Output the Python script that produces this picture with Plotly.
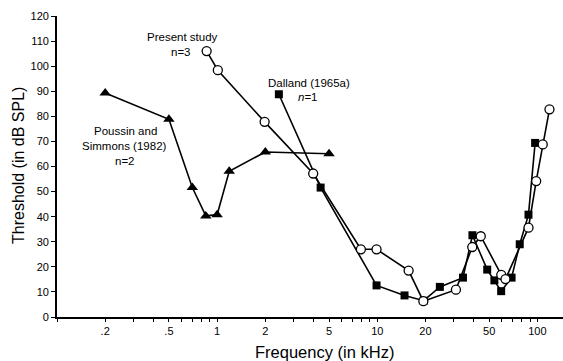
import numpy as np
import plotly.graph_objects as go

# Poussin and Simmons (1982), n=2 (triangles)
ps_freq = [0.2, 0.5, 0.7, 0.85, 1.0, 1.19, 2.0, 5.0]
ps_thr = [89.3, 78.8, 51.6, 40.3, 40.8, 58.1, 65.8, 65.1]

# Present study, n=3 (open circles)
ps2_freq = [0.86, 1.01, 1.98, 3.98, 7.9, 9.9, 15.7, 19.4, 31.0, 39.2, 44.3, 59.5, 63.2, 88.0, 98.3, 108.0, 119.0]
ps2_thr = [106.0, 98.4, 77.8, 57.2, 27.0, 27.0, 18.5, 6.3, 10.9, 27.9, 32.2, 16.8, 15.1, 35.6, 54.2, 68.8, 82.8]

# Dalland (1965a), n=1 (filled squares)
da_freq = [2.43, 4.43, 9.9, 14.8, 19.5, 24.6, 34.3, 39.3, 48.6, 53.9, 59.4, 69.0, 77.6, 88.0, 96.8]
da_thr = [88.8, 51.6, 12.6, 8.6, 6.5, 12.0, 15.7, 32.6, 18.9, 14.6, 10.3, 15.7, 29.0, 40.8, 69.4]

# axis ticks
y_ticks = list(range(0, 121, 10))
x_label_vals = [0.2, 0.5, 1, 2, 5, 10, 20, 50, 100]
x_label_text = [".2", ".5", "1", "2", "5", "10", "20", "50", "100"]

minor_vals = []
for dec in [0.1, 1, 10, 100]:
    for m in range(1, 10):
        v = round(dec * m, 6)
        if v <= 140:
            minor_vals.append(v)
tick_text = []
for v in minor_vals:
    lab = ""
    for lv, lt in zip(x_label_vals, x_label_text):
        if abs(v - lv) < 1e-9:
            lab = lt
    tick_text.append(lab)

FONT = "Liberation Sans, Arial, Helvetica, sans-serif"
W, H = 563, 361
ML, MR, MT, MB = 57, 0, 16, 44
PW, PH = W - ML - MR, H - MT - MB

fig = go.Figure()
fig.add_trace(go.Scatter(
    x=ps_freq, y=ps_thr, mode="lines+markers",
    line=dict(color="black", width=1.6),
    marker=dict(symbol="triangle-up", size=10, color="black"),
    showlegend=False))
fig.add_trace(go.Scatter(
    x=da_freq, y=da_thr, mode="lines+markers",
    line=dict(color="black", width=1.6),
    marker=dict(symbol="square", size=8, color="black"),
    showlegend=False))
fig.add_trace(go.Scatter(
    x=ps2_freq, y=ps2_thr, mode="lines+markers",
    line=dict(color="black", width=1.6),
    marker=dict(symbol="circle", size=9, color="white", line=dict(color="black", width=1.3)),
    showlegend=False))

ann_font = dict(family=FONT, size=11.5, color="black")
annotations = [
    dict(x=182, y=37, text="Present study", font=ann_font),
    dict(x=181, y=52, text="n=3", font=ann_font),
    dict(x=309, y=83, text="Dalland (1965a)", font=ann_font),
    dict(x=308, y=97, text="<i>n</i>=1", font=ann_font),
    dict(x=125, y=131, text="Poussin and", font=ann_font),
    dict(x=124, y=146, text="Simmons (1982)", font=ann_font),
    dict(x=125, y=161, text="n=2", font=ann_font),
    dict(x=324, y=352, text="Frequency (in kHz)", font=dict(family=FONT, size=16.5, color="black")),
    dict(x=18, y=166, text="Threshold (in dB SPL)", textangle=-90, font=dict(family=FONT, size=16, color="black")),
]
for a in annotations:
    a["x"] = (a["x"] - ML) / PW
    a["y"] = (H - MB - a["y"]) / PH
    a.update(xref="paper", yref="paper", showarrow=False, xanchor="center", yanchor="middle")

fig.update_layout(
    width=W, height=H,
    margin=dict(l=ML, r=MR, t=MT, b=MB),
    plot_bgcolor="white", paper_bgcolor="white",
    font=dict(family=FONT, size=11, color="black"),
    annotations=annotations,
    xaxis=dict(
        type="log", range=[-1.0, 2.16],
        tickmode="array", tickvals=minor_vals, ticktext=tick_text,
        ticks="outside", ticklen=3, tickwidth=1, tickcolor="black",
        showline=True, linecolor="black", linewidth=1.8,
        showgrid=False, zeroline=False,
        tickfont=dict(family=FONT, size=11, color="black"),
    ),
    yaxis=dict(
        range=[0, 120], tickmode="array", tickvals=y_ticks,
        ticks="outside", ticklen=4, tickwidth=1, tickcolor="black",
        showline=True, linecolor="black", linewidth=1.8,
        showgrid=False, zeroline=False,
        tickfont=dict(family=FONT, size=11, color="black"),
    ),
)

fig.write_html("out.html")
